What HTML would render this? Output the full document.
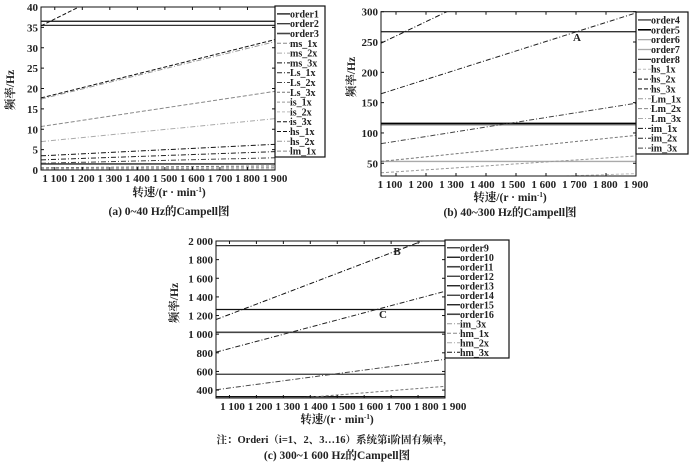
<!DOCTYPE html>
<html><head><meta charset="utf-8">
<style>
body{margin:0;background:#fff;}
svg{display:block;font-family:"Liberation Serif","Noto Serif CJK SC",serif;}
.tk{font-size:11px;font-weight:bold;fill:#222;}
.lg{font-size:10px;font-weight:bold;fill:#222;}
.tt{font-size:11.5px;font-weight:bold;fill:#222;}
</style></head>
<body>
<svg id="fig" width="700" height="473" viewBox="0 0 700 473"></svg>
<script>
// ---------- data ----------
const rpmDomain=[1050,1900];
const xTicks=[1100,1200,1300,1400,1500,1600,1700,1800,1900];
const xTickLabels=["1 100","1 200","1 300","1 400","1 500","1 600","1 700","1 800","1 900"];
// chart a
const aYTicks=[0,5,10,15,20,25,30,35,40];
const aYTickLabels=["0","5","10","15","20","25","30","35","40"];
const aOrderVals=[36.5,35.5,1.5];
const aSlopeAt1900=[64.0,32.0,31.5,19.3,12.6,6.3,4.5,3.0,1.0,0.6,0.3];
const aLegend=["order1","order2","order3","ms_1x","ms_2x","ms_3x","Ls_1x","Ls_2x","Ls_3x","is_1x","is_2x","is_3x","hs_1x","hs_2x","lm_1x"];
// chart b
const bYTicks=[50,100,150,200,250,300];
const bYTickLabels=["50","100","150","200","250","300"];
const bOrderVals=[267,115,113,53];
const bSlopeAt1900=[449,298,149,96,62,33];
const bLegend=["order4","order5","order6","order7","order8","hs_1x","hs_2x","hs_3x","Lm_1x","Lm_2x","Lm_3x","im_1x","im_2x","im_3x"];
// chart c
const cYTicks=[400,600,800,1000,1200,1400,1600,1800,2000];
const cYTickLabels=["400","600","800","1 000","1 200","1 400","1 600","1 800","2 000"];
const cOrderVals=[1950,1265,1020,570,330];
const cSlopeAt1900=[2093,1460,730,440];
const cLegend=["order9","order10","order11","order12","order13","order14","order15","order16","im_3x","hm_1x","hm_2x","hm_3x"];

const NS="http://www.w3.org/2000/svg";
const svg=document.getElementById('fig');
function el(tag,attrs,parent){const e=document.createElementNS(NS,tag);for(const k in attrs)e.setAttribute(k,attrs[k]);(parent||svg).appendChild(e);return e;}

const orderStyles=[
 {stroke:"#111",w:1.3,dash:""},{stroke:"#333",w:1.3,dash:""},{stroke:"#444",w:1.6,dash:""},
 {stroke:"#000",w:2.4,dash:""},{stroke:"#aaa",w:1.3,dash:""}];
const slopeStyles=[
 {stroke:"#111",w:1,dash:"4,2"},{stroke:"#111",w:1,dash:"4,2"},{stroke:"#999",w:1,dash:"5,2,1,2"},
 {stroke:"#888",w:1,dash:"4,2"},{stroke:"#aaa",w:1,dash:"5,2,1,2"},{stroke:"#111",w:1,dash:"5,2,1,2"},
 {stroke:"#222",w:1,dash:"5,2,1,2"},{stroke:"#444",w:1,dash:"5,2,1,2"},{stroke:"#777",w:1,dash:"3,2"},
 {stroke:"#999",w:1,dash:"3,2"},{stroke:"#bbb",w:1,dash:"3,2"}];

function chart(c){
 const g=el('g',{});
 
 
 const x=v=>c.x0+(v-rpmDomain[0])/(rpmDomain[1]-rpmDomain[0])*(c.x1-c.x0);
 const y=v=>c.y1-(v-c.yd[0])/(c.yd[1]-c.yd[0])*(c.y1-c.y0);
 const clip='clip-'+c.name;
 const cp=el('clipPath',{id:clip},g);el('rect',{x:c.x0,y:c.y0,width:c.x1-c.x0,height:c.y1-c.y0},cp);
 const lines=el('g',{'clip-path':'url(#'+clip+')'},g);
 c.orders.forEach((v,i)=>{const s=c.ostyles[i%c.ostyles.length];
  const l=el('line',{x1:c.x0,x2:c.x1,y1:y(v),y2:y(v),stroke:s.stroke,'stroke-width':s.w},lines);
  
  });
 c.slopes.forEach((v,i)=>{const s=slopeStyles[(i+c.soff)%slopeStyles.length];
  const f=r=>v*r/1900;
  const l=el('line',{x1:x(rpmDomain[0]),y1:y(f(rpmDomain[0])),x2:x(rpmDomain[1]),y2:y(f(rpmDomain[1])),stroke:s.stroke,'stroke-width':s.w,'stroke-dasharray':s.dash},lines);
  
  });
 const fr=el('rect',{x:c.x0,y:c.y0,width:c.x1-c.x0,height:c.y1-c.y0,fill:'none',stroke:'#111','stroke-width':1},g);
 
 
 c.yt.forEach((v,i)=>{const yy=y(v);
  el('line',{x1:c.x0,x2:c.x0+3,y1:yy,y2:yy,stroke:'#111'},g);
  el('line',{x1:c.x1,x2:c.x1-3,y1:yy,y2:yy,stroke:'#111'},g);
  const t=el('text',{x:c.x0-3,y:yy+4,'text-anchor':'end',class:'tk'},g);t.textContent=c.ytl[i];
  
  });
 xTicks.forEach((v,i)=>{const xx=x(v);
  el('line',{x1:xx,x2:xx,y1:c.y1,y2:c.y1-3,stroke:'#111'},g);
  el('line',{x1:xx,x2:xx,y1:c.y0,y2:c.y0+3,stroke:'#111'},g);
  const t=el('text',{x:xx+c.dx+(i/8)*c.dx2,y:c.y1+12,'text-anchor':'middle',class:'tk'},g);t.textContent=xTickLabels[i];
  
  });
 const yt=el('text',{x:0,y:0,transform:`translate(${c.ytx},${c.yty}) rotate(-90)`,'text-anchor':'middle',class:'tt'},g);yt.textContent='频率/Hz';
 
 
 const xt=el('text',{x:c.xtx,y:c.xty,'text-anchor':'middle',class:'tt'},g);
 xt.innerHTML='转速/(r · min<tspan dy="-4" font-size="7">-1</tspan><tspan dy="4">)</tspan>';
 
 
 const cap=el('text',{x:c.xtx,y:c.capy,'text-anchor':'middle',class:'tt'},g);cap.textContent=c.cap;
 
 
 const lg=el('g',{},g);
 
 
 el('rect',{x:c.lx,y:c.ly,width:c.lw,height:c.lh,fill:'#fff',stroke:'#111','stroke-width':1.2},lg);
 const step=(c.lh-4)/c.leg.length;
 c.leg.forEach((n,i)=>{const yy=c.ly+3+step*(i+0.5);
  let s;
  if(i<c.orders.length+c.extraOrd){s=c.ostyles[i%c.ostyles.length];}else{s=slopeStyles[(i+c.soff)%slopeStyles.length];}
  el('line',{x1:c.lx+2,x2:c.lx+15,y1:yy,y2:yy,stroke:s.stroke,'stroke-width':Math.min(s.w,1.6),'stroke-dasharray':s.dash||''},lg);
  const t=el('text',{x:c.lx+15,y:yy+3.5,class:'lg'},lg);t.textContent=n;
  
  });
 (c.marks||[]).forEach(m=>{const t=el('text',{x:m[1],y:m[2],'text-anchor':'middle',class:'tk'},g);t.textContent=m[0];
  
  });
}

chart({name:'chart-a',x0:41,x1:275,y0:7,y1:170,yd:[0,40],yt:aYTicks,ytl:aYTickLabels,orders:aOrderVals,
 ostyles:[orderStyles[0],orderStyles[1],orderStyles[2]],slopes:aSlopeAt1900,soff:0,extraOrd:0,dx:0,dx2:0,
 ytx:14,yty:90,xtx:169,xty:196,capy:215,cap:'(a) 0~40 Hz的Campell图',leg:aLegend,lx:275,ly:6,lw:50,lh:151});
chart({name:'chart-b',x0:381,x1:636,y0:11.7,y1:176,yd:[29,300],yt:bYTicks,ytl:bYTickLabels,orders:bOrderVals,
 ostyles:[orderStyles[1],orderStyles[3],orderStyles[4],orderStyles[4]],slopes:bSlopeAt1900,soff:5,extraOrd:1,dx:-6,dx2:6,
 ytx:355,yty:77,xtx:510,xty:201,capy:216,cap:'(b) 40~300 Hz的Campell图',leg:bLegend,lx:636,ly:12,lw:52,lh:142,
 marks:[['A',577,41]]});
chart({name:'chart-c',x0:216,x1:445,y0:241,y1:398,yd:[315,2000],yt:cYTicks,ytl:cYTickLabels,orders:cOrderVals,
 ostyles:[orderStyles[1],orderStyles[0],orderStyles[2],orderStyles[1],orderStyles[0]],slopes:cSlopeAt1900,soff:5,extraOrd:3,dx:3,dx2:6,
 ytx:178,yty:303,xtx:337,xty:423,capy:459,cap:'(c) 300~1 600 Hz的Campell图',leg:cLegend,lx:445,ly:240,lw:64,lh:118,
 marks:[['B',397,255],['C',383,318]]});
const note=el('text',{x:335,y:443,'text-anchor':'middle',class:'tt',style:'font-size:10.5px'});
note.textContent='注：Orderi（i=1、2、3…16）系统第i阶固有频率，';


</script>
</body></html>
